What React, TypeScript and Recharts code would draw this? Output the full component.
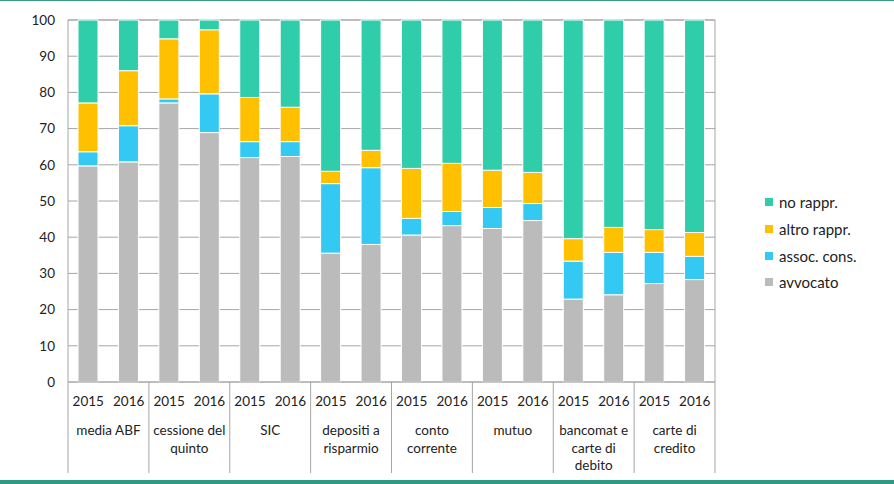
import { BarChart, Bar, XAxis, YAxis, CartesianGrid } from 'recharts';

const groups = [
  'media ABF',
  'cessione del\nquinto',
  'SIC',
  'depositi a\nrisparmio',
  'conto\ncorrente',
  'mutuo',
  'bancomat e\ncarte di\ndebito',
  'carte di\ncredito',
];
const years = ['2015', '2016'];

// one value per bar, in order: media ABF 2015, media ABF 2016, cessione 2015, ...
const avvocato = [59.7, 60.8, 77.1, 68.9, 62.0, 62.3, 35.6, 38.0, 40.6, 43.2, 42.4, 44.6, 22.9, 24.1, 27.2, 28.3];
const assocCons = [3.9, 10.0, 1.1, 10.7, 4.4, 4.1, 19.2, 21.2, 4.6, 3.9, 5.8, 4.7, 10.5, 11.7, 8.6, 6.4];
const altroRappr = [13.5, 15.2, 16.6, 17.7, 12.2, 9.5, 3.4, 4.8, 13.8, 13.3, 10.3, 8.6, 6.2, 6.9, 6.3, 6.6];
const noRappr = [22.9, 14.0, 5.2, 2.7, 21.4, 24.1, 41.8, 36.0, 41.0, 39.6, 41.5, 42.1, 60.4, 57.3, 57.9, 58.7];

const yTicks = [0, 10, 20, 30, 40, 50, 60, 70, 80, 90, 100];

const series = [
  { key: 'avvocato', name: 'avvocato', color: '#BBBBBB' },
  { key: 'assoc', name: 'assoc. cons.', color: '#33C9F2' },
  { key: 'altro', name: 'altro rappr.', color: '#FFC000' },
  { key: 'no', name: 'no rappr.', color: '#30CDAB' },
];

const data = avvocato.map((v, i) => ({
  key: `${i}`,
  year: years[i % 2],
  group: groups[Math.floor(i / 2)],
  avvocato: v,
  assoc: assocCons[i],
  altro: altroRappr[i],
  no: noRappr[i],
}));

const FONT = 'Lato, "Open Sans", sans-serif';
const GRID = '#A6A6A6';
const PLOT_LEFT = 68;
const PLOT_RIGHT = 715;
const BAND = (PLOT_RIGHT - PLOT_LEFT) / data.length;

const CategoryTick = (props: any) => {
  const { x, y, payload } = props;
  const i = payload.index ?? Number(payload.value);
  const row = data[i];
  const y0 = y;
  const lines = row.group.split('\n');
  return (
    <g>
      <text x={x} y={y0 + 16} textAnchor="middle" fontFamily={FONT} fontSize={13.5} fill="#222">
        {row.year}
      </text>
      {i % 2 === 0 && (
        <>
          <line x1={x - BAND / 2} x2={x - BAND / 2} y1={y0 - 8} y2={y0 + 83} stroke={GRID} />
          {lines.map((l: string, k: number) => (
            <text
              key={k}
              x={x + BAND / 2}
              y={y0 + 45 + k * 17.5}
              textAnchor="middle"
              fontFamily={FONT}
              fontSize={13.5}
              fill="#222"
            >
              {l}
            </text>
          ))}
        </>
      )}
      {i === data.length - 1 && (
        <line x1={x + BAND / 2} x2={x + BAND / 2} y1={y0 - 8} y2={y0 + 83} stroke={GRID} />
      )}
    </g>
  );
};

const App = () => {
  return (
    <div style={{ position: 'absolute', left: 0, top: 0, width: 894, height: 484, background: '#fff' }}>
      <div style={{ position: 'absolute', left: 0, top: 0, width: 894, height: 1, background: '#3A9A8A' }} />
      <BarChart
        width={894}
        height={484}
        data={data}
        margin={{ top: 20, right: 120, bottom: 0, left: 0 }}
        barSize={20}
      >
        <CartesianGrid vertical={false} stroke={GRID} yAxisId="left" />
        <XAxis
          dataKey="key"
          interval={0}
          height={102}
          axisLine={{ stroke: GRID }}
          tickLine={false}
          tick={<CategoryTick />}
        />
        <YAxis
          yAxisId="left"
          width={68}
          domain={[0, 100]}
          ticks={yTicks}
          axisLine={{ stroke: GRID }}
          tickLine={false}
          tickMargin={7}
          tick={{ fontFamily: FONT, fontSize: 13.5, fill: '#222' }}
        />
        <YAxis
          yAxisId="right"
          orientation="right"
          width={59}
          domain={[0, 100]}
          ticks={yTicks}
          axisLine={{ stroke: GRID }}
          tickLine={false}
          tickMargin={7}
          tick={{ fontFamily: FONT, fontSize: 13.5, fill: '#222', textAnchor: 'start' }}
        />
        {series.map((s) => (
          <Bar
            key={s.key}
            dataKey={s.key}
            name={s.name}
            stackId="a"
            yAxisId="left"
            fill={s.color}
            stroke="#fff"
            strokeWidth={1}
            isAnimationActive={false}
          />
        ))}
      </BarChart>
      <div style={{ position: 'absolute', left: 765, top: 189, fontFamily: FONT, fontSize: 15, color: '#222' }}>
        {[...series].reverse().map((s) => (
          <div key={s.key} style={{ display: 'flex', alignItems: 'center', height: 26.7 }}>
            <span style={{ display: 'inline-block', width: 8, height: 8, background: s.color, marginRight: 6 }} />
            <span>{s.name}</span>
          </div>
        ))}
      </div>
      <div style={{ position: 'absolute', left: 0, top: 480, width: 894, height: 4, background: '#2E9A84' }} />
    </div>
  );
};

export default App;
